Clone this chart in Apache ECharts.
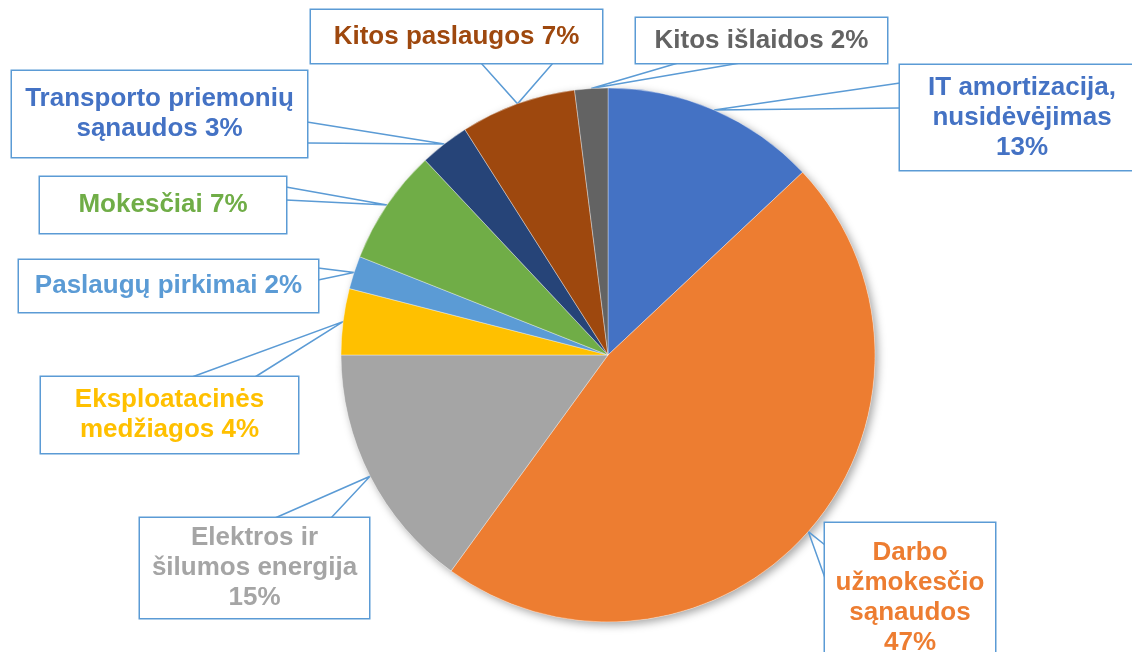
<!DOCTYPE html>
<html>
<head>
<meta charset="utf-8">
<script src="https://cdn.jsdelivr.net/npm/echarts@6/dist/echarts.min.js"></script>
<style>
  html, body { margin: 0; padding: 0; background: #fff; }
  #chart { width: 1132px; height: 652px; }
</style>
</head>
<body>
<div id="chart"></div>
<script>
// slice data, clockwise from 12 o'clock
const categories = [
  "IT amortizacija,\nnusidėvėjimas",
  "Darbo\nužmokesčio\nsąnaudos",
  "Elektros ir\nšilumos energija",
  "Eksploatacinės\nmedžiagos",
  "Paslaugų pirkimai",
  "Mokesčiai",
  "Transporto priemonių\nsąnaudos",
  "Kitos paslaugos",
  "Kitos išlaidos"
];
const shares = [13, 47, 15, 4, 2, 7, 3, 7, 2];

const sliceColors = ["#4472C4", "#ED7D31", "#A5A5A5", "#FFC000", "#5B9BD5", "#70AD47", "#264478", "#9E480E", "#636363"];
const textColors  = ["#4472C4", "#ED7D31", "#A5A5A5", "#FFC000", "#5B9BD5", "#70AD47", "#4472C4", "#9E480E", "#636363"];

// callout boxes: outer rect + two wedge base points on the box edge
const BOX_LINE = "#5B9BD5";
const LINE_H = 30;
const callouts = [
  { x: 900, y: 65,  w: 244, h: 105, br: true,  a: [900, 83],  b: [900, 108] },
  { x: 825, y: 523, w: 170, h: 150, br: true,  a: [825, 545], b: [825, 578] },
  { x: 140, y: 518, w: 229, h: 100, br: true,  a: [275, 518], b: [331, 518] },
  { x: 41,  y: 377, w: 257, h: 76,  br: false, a: [192, 377], b: [255, 377] },
  { x: 19,  y: 260, w: 299, h: 52,  br: false, a: [318, 268], b: [318, 280] },
  { x: 40,  y: 177, w: 246, h: 56,  br: false, a: [286, 187], b: [286, 200] },
  { x: 12,  y: 71,  w: 295, h: 86,  br: false, a: [307, 122], b: [307, 143] },
  { x: 311, y: 10,  w: 291, h: 53,  br: false, a: [481, 63],  b: [553, 63] },
  { x: 636, y: 18,  w: 251, h: 45,  br: false, a: [678, 63],  b: [740, 63] }
];

const chart = echarts.init(document.getElementById("chart"));

const slices = categories.map((name, i) => {
  const c = callouts[i];
  const lines = (name.match(/\n/g) || []).length + 1 + (c.br ? 1 : 0);
  const pv = Math.max(0, (c.h - lines * LINE_H) / 2);
  return {
    name, value: shares[i],
    itemStyle: { color: sliceColors[i] },
    label: {
      color: textColors[i],
      width: c.w - 8,
      padding: [pv, 4, pv, 4]
    }
  };
});

chart.setOption({
  animation: false,
  series: [
    {
      // shadow under the pie
      type: "pie", silent: true, z: 1,
      center: [608, 355], radius: 267, startAngle: 90,
      label: { show: false }, labelLine: { show: false },
      itemStyle: { color: "#fff", shadowBlur: 9, shadowOffsetX: 3, shadowOffsetY: 3, shadowColor: "rgba(0,0,0,0.35)" },
      data: shares.map((v) => ({ value: v }))
    },
    {
      type: "pie", z: 2,
      center: [608, 355], radius: 267, startAngle: 90, clockwise: true,
      avoidLabelOverlap: false,
      itemStyle: { borderColor: "rgba(255,255,255,0.6)", borderWidth: 0.6 },
      label: {
        show: true, position: "outside", overflow: "none",
        fontFamily: "'Liberation Sans', Arial, sans-serif",
        fontWeight: "bold", fontSize: 26, lineHeight: LINE_H,
        align: "center",
        backgroundColor: "#fff", borderColor: BOX_LINE, borderWidth: 1.5,
        formatter: (p) => p.name + (callouts[p.dataIndex].br ? "\n" : " ") + p.value + "%"
      },
      labelLine: { show: true, length: 10, length2: 10, lineStyle: { color: BOX_LINE, width: 1.5 } },
      labelLayout: (params) => {
        const c = callouts[params.dataIndex];
        const tip = params.labelLinePoints ? params.labelLinePoints[0] : c.a;
        return {
          x: c.x + c.w / 2, y: c.y,
          align: "center", verticalAlign: "top",
          labelLinePoints: [c.a, tip, c.b]
        };
      },
      emphasis: { disabled: true },
      data: slices
    }
  ]
});
</script>
</body>
</html>
